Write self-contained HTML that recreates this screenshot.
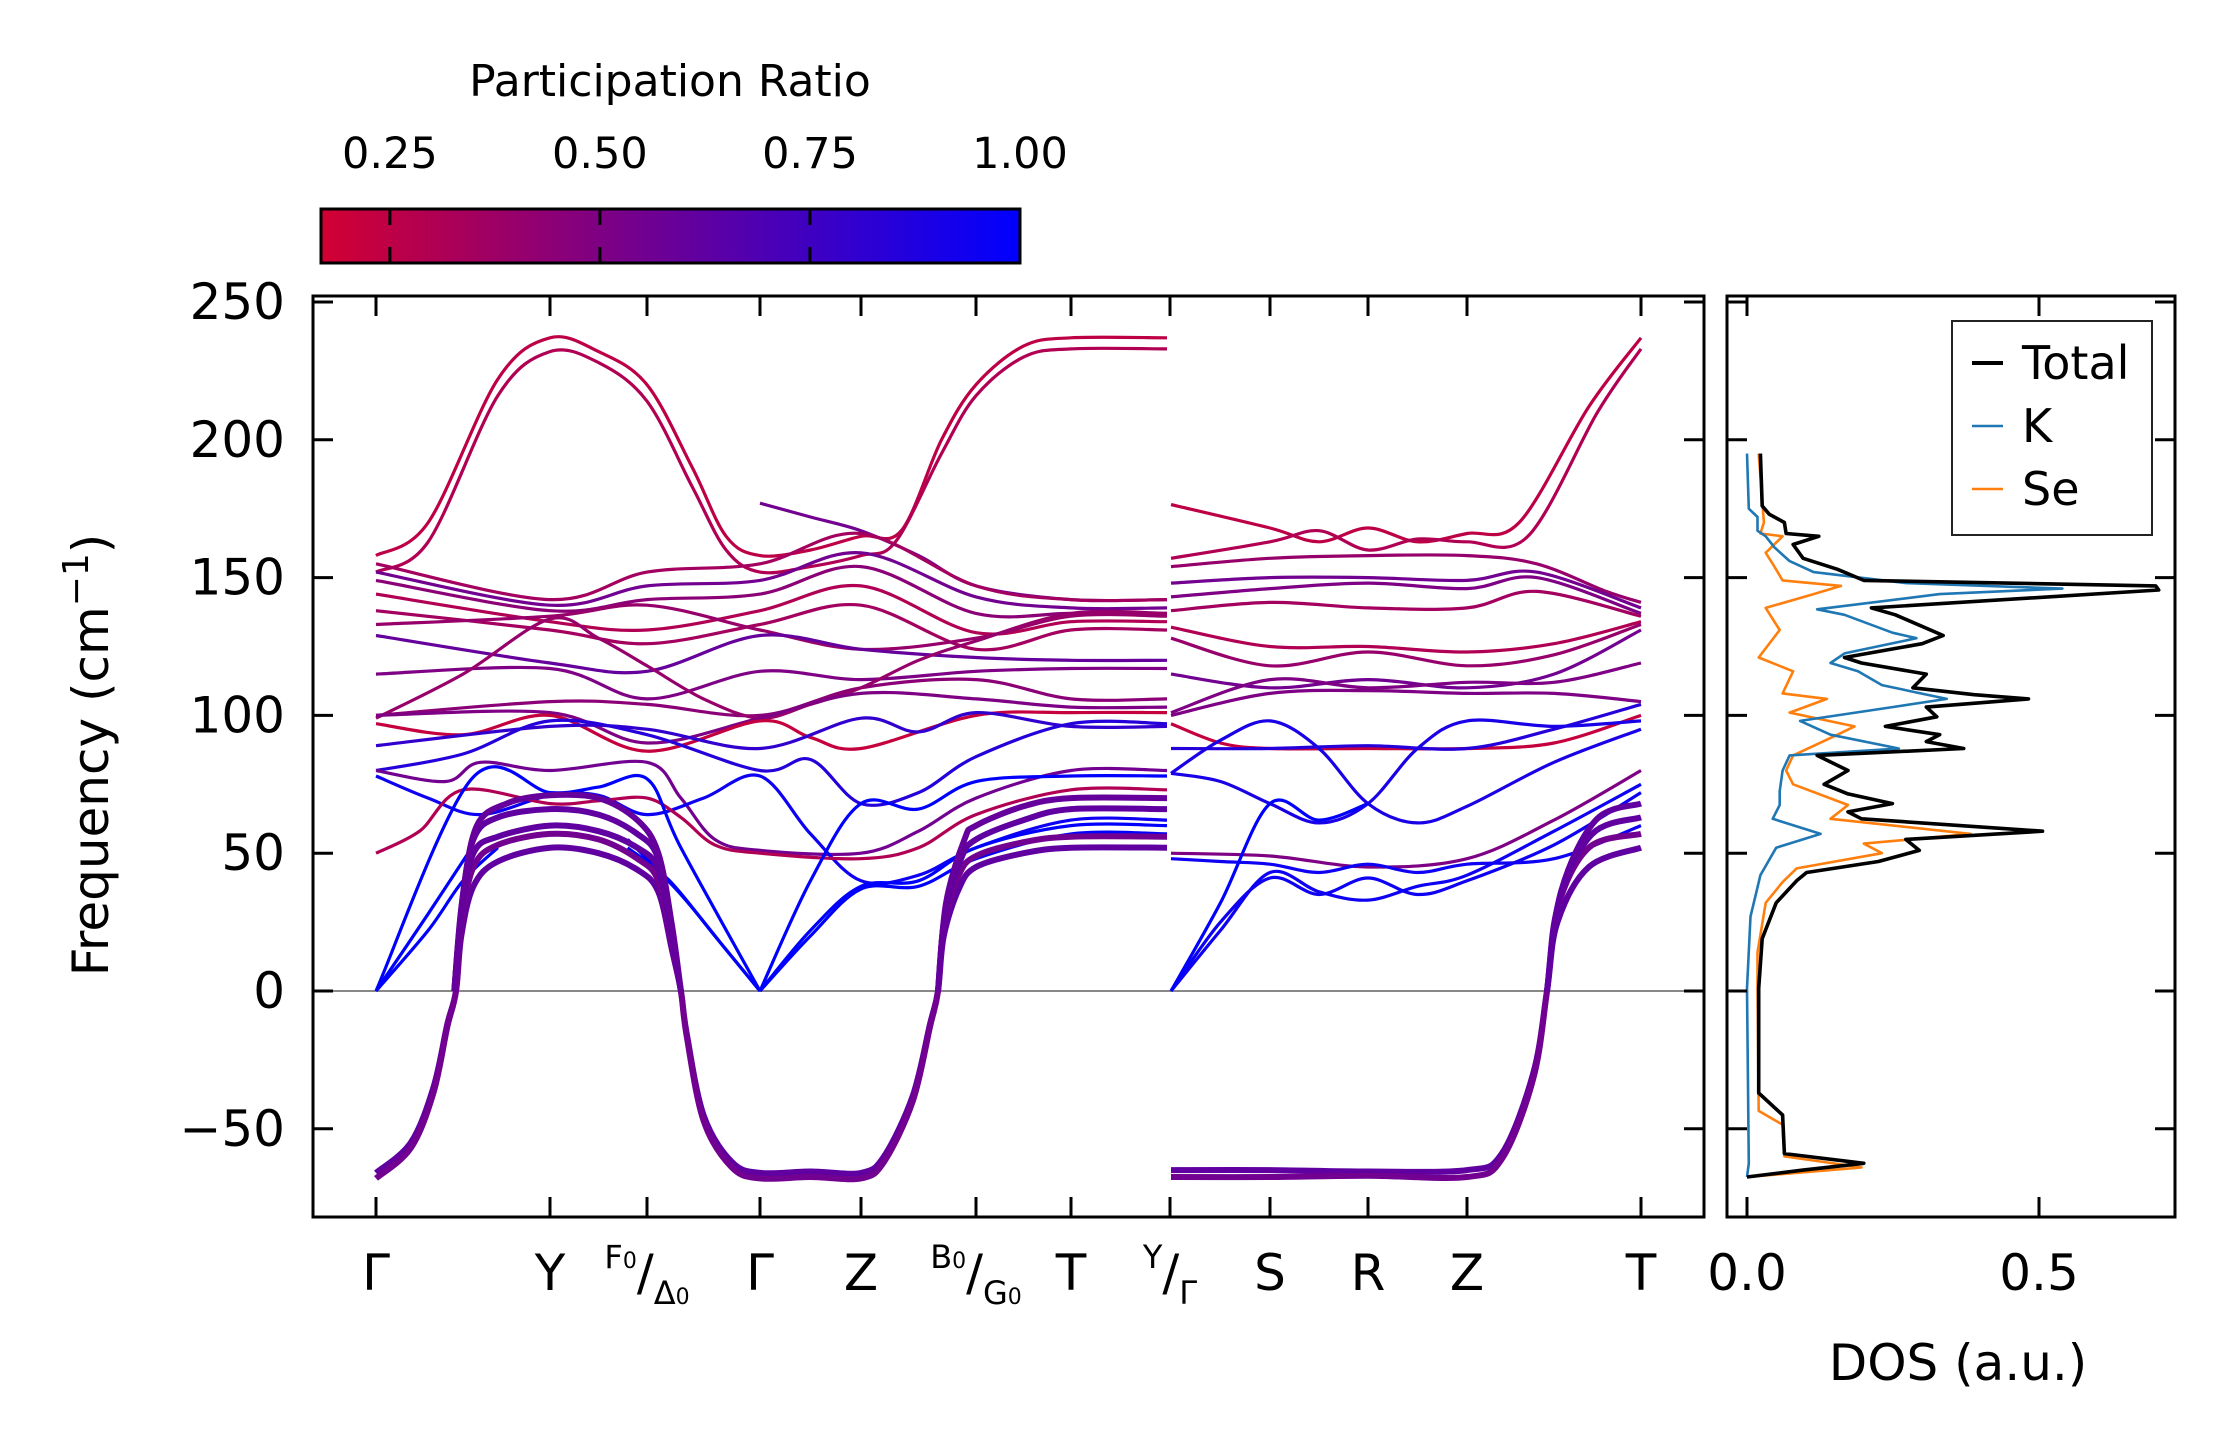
<!DOCTYPE html>
<html><head><meta charset="utf-8"><style>
html,body{margin:0;padding:0;background:#fff}
svg{display:block;font-family:"DejaVu Sans","Liberation Sans",sans-serif}
</style></head><body>
<svg id="fig" width="2234" height="1455" viewBox="0 0 2234 1455" xmlns="http://www.w3.org/2000/svg">
<defs>
<linearGradient id="cmap" x1="0" x2="1" y1="0" y2="0">
<stop offset="0" stop-color="rgb(210,0,50)"/><stop offset="1" stop-color="rgb(0,0,255)"/>
</linearGradient>
<clipPath id="clipMain"><rect x="313" y="296" width="1391" height="921"/></clipPath>
<clipPath id="clipDos"><rect x="1727" y="296" width="448" height="921"/></clipPath>
</defs>
<g id="colorbar">
<text x="670" y="96" font-size="44" text-anchor="middle">Participation Ratio</text>
<rect x="321" y="209" width="699" height="54" fill="url(#cmap)" stroke="#000" stroke-width="3"/>
</g>
<g id="bands" clip-path="url(#clipMain)"></g>
<g id="dos" clip-path="url(#clipDos)"></g>
<g id="axes"></g>
</svg>
<script>
// ---- data ----
const cbTicks=[0.25,0.5,0.75,1.0];
const cbTickLabels=['0.25','0.50','0.75','1.00'];
const yTicks=[250,200,150,100,50,0,-50];
const yTickLabels=['250','200','150','100','50','0','\u221250'];
const pathDistL=[0,1.74,2.71,3.84,4.85,6.00,6.95,7.93];
const pathDistR=[7.95,8.94,9.92,10.91,12.65];
const kLabels=[['Γ'],['Y'],['F','Δ'],['Γ'],['Z'],['B','G'],['T'],['Y','Γ'],['S'],['R'],['Z'],['T']];
const dosTicks=[0,0.5];
const dosTickLabels=['0.0','0.5'];
const leftBands=[
 {pr:0.25,pts:[[0,158],[0.3,170],[0.7,222],[1,237],[1.5,232],[2,220],[2.4,190],[2.7,165],[3,158],[3.5,160],[4,165],[4.35,167],[4.7,200],[5,220],[5.5,234],[6,237],[7,237]]},
 {pr:0.3,pts:[[0,152],[0.3,163],[0.7,216],[1,232],[1.5,228],[2,214],[2.4,183],[2.7,160],[3,152],[3.5,154],[4,158],[4.3,163],[4.7,195],[5,216],[5.5,230],[6,233],[7,233]]},
 {pr:0.55,pts:[[3,177],[3.5,172],[4,167],[4.5,158],[5,147],[6,142],[7,142]]},
 {pr:0.35,pts:[[0,155],[1,142],[2,152],[3,155],[4,166],[5,147],[6,142],[7,142]]},
 {pr:0.55,pts:[[0,152],[1,140],[2,147],[3,149],[4,159],[5,143],[6,139],[7,139]]},
 {pr:0.45,pts:[[0,149],[1,138],[2,142],[3,144],[4,154],[5,137],[6,137],[7,137]]},
 {pr:0.3,pts:[[0,144],[1,134],[2,131],[3,138],[4,147],[5,130],[6,134],[7,134]]},
 {pr:0.35,pts:[[0,138],[1,131],[2,126],[3,133],[4,140],[5,124],[6,131],[7,131]]},
 {pr:0.4,pts:[[0,133],[1,136],[2,140],[3,131],[4,124],[5,128],[6,136],[7,136]]},
 {pr:0.6,pts:[[0,129],[1,119],[2,116],[3,129],[4,124],[5,121],[6,120],[7,120]]},
 {pr:0.5,pts:[[0,115],[1,117],[2,106],[3,116],[4,113],[5,116],[6,117],[7,117]]},
 {pr:0.45,pts:[[0,100],[1,105],[2,104],[3,100],[4,110],[5,113],[6,106],[7,106]]},
 {pr:0.4,pts:[[0,99],[0.5,115],[1,135],[1.5,128],[2,118],[2.5,106],[3,99],[3.5,104],[4,110],[4.5,120],[5,127],[6,137],[7,137]]},
 {pr:0.5,pts:[[0,100],[1,101],[2,90],[3,99],[4,108],[5,106],[6,103],[7,103]]},
 {pr:0.22,pts:[[0,97],[0.5,93],[1,100],[2,87],[3,98],[3.5,92],[4,88],[5,100],[6,101],[7,101]]},
 {pr:0.8,pts:[[0,89],[1,96],[2,95],[3,88],[4,99],[4.5,94],[5,101],[6,96],[7,96]]},
 {pr:0.85,pts:[[0,80],[0.5,86],[1,98],[2,93],[3,80],[3.5,84],[4,68],[4.5,72],[5,85],[6,97],[7,97]]},
 {pr:0.55,pts:[[0,80],[0.4,76],[0.6,83],[1,80],[2,83],[2.3,70],[2.6,55],[3,51],[4,50],[4.5,58],[5,70],[6,80],[7,80]]},
 {pr:0.95,pts:[[0,78],[0.3,70],[0.6,64],[1,71],[1.5,71],[2,64],[2.5,70],[3,78],[3.5,57],[4,40],[4.5,42],[5,52],[6,62],[7,62]]},
 {pr:0.3,pts:[[0,50],[0.25,58],[0.5,73],[1,68],[1.5,69],[2,70],[2.3,63],[2.6,53],[3,50],[4,48],[4.5,52],[5,64],[6,73],[7,73]]},
 {pr:1.0,pts:[[0,0],[0.55,77],[1,72],[1.5,74],[2,77],[2.3,52],[3,0]]},
 {pr:1.0,pts:[[0,0],[0.3,22],[0.5,40],[0.7,52]]},
 {pr:1.0,pts:[[0,0],[0.3,28],[0.55,52]]},
 {pr:1.0,pts:[[1.8,52],[2.2,40],[2.6,20],[3,0]]},
 {pr:1.0,pts:[[1.8,55],[2.3,35],[2.7,15],[3,0]]},
 {pr:1.0,pts:[[3,0],[3.5,22],[4,38],[4.5,40],[5,52],[6,60],[7,60]]},
 {pr:1.0,pts:[[3,0],[3.5,20],[4,37],[4.5,38],[5,48],[6,57],[7,57]]},
 {pr:1.0,pts:[[3,0],[3.5,40],[4,68],[4.5,66],[5,76],[6,78],[7,78]]},
 {pr:0.62,soft:1,pts:[[0,-66],[0.2,-55],[0.33,-35],[0.41,-12],[0.46,0],[0.49,20],[0.56,38],[0.7,47],[1,52],[1.5,50],[1.9,44],[2.1,36],[2.22,15],[2.3,0],[2.35,-15],[2.5,-45],[2.75,-62],[3,-66],[3.5,-65.5],[4,-66],[4.2,-60],[4.45,-38],[4.6,-12],[4.67,0],[4.72,20],[4.85,37],[5,45],[5.5,50],[6,52],[7,52]]},
 {pr:0.55,soft:1,pts:[[0,-68],[0.2,-57],[0.33,-37],[0.41,-13],[0.46,0],[0.49,24],[0.56,45],[0.7,53],[1,57],[1.5,55],[1.9,48],[2.1,40],[2.22,17],[2.3,0],[2.35,-16],[2.5,-47],[2.75,-64],[3,-68],[3.5,-67.5],[4,-68],[4.2,-62],[4.45,-40],[4.6,-13],[4.67,0],[4.72,24],[4.85,42],[5,49],[5.5,54],[6,56],[7,56]]},
 {pr:0.62,soft:1,pts:[[0.45,0],[0.49,28],[0.56,50],[0.7,56],[1,60],[1.5,58],[1.9,52],[2.1,44],[2.22,20],[2.3,0]]},
 {pr:0.62,soft:1,pts:[[0.45,0],[0.49,30],[0.56,55],[0.7,63],[1,66],[1.5,64],[1.9,57],[2.1,48],[2.22,22],[2.3,0]]},
 {pr:0.6,soft:1,pts:[[0.45,0],[0.5,35],[0.58,60],[0.75,68],[1,71],[1.5,70],[1.9,62],[2.1,50],[2.22,24],[2.3,0]]},
 {pr:0.62,soft:1,pts:[[4.67,0],[4.73,28],[4.87,48],[5,55],[5.5,62],[6,66],[7,66]]},
 {pr:0.6,soft:1,pts:[[4.67,0],[4.74,32],[4.9,55],[5,60],[5.5,67],[6,70],[7,70]]}
];
const rightBands=[
 {pr:0.25,pts:[[7,176.5],[8,168],[8.5,163],[9,168],[9.5,163],[10,166],[10.3,170],[10.7,212],[11,237]]},
 {pr:0.3,pts:[[7,157],[8,163],[8.5,167],[9,160],[9.5,164],[10,163],[10.35,165],[10.75,210],[11,233]]},
 {pr:0.4,pts:[[7,154],[8,157],[9,158],[10,158],[10.4,155],[10.8,145],[11,141]]},
 {pr:0.55,pts:[[7,148],[8,150],[9,150],[10,149],[10.4,152],[11,139]]},
 {pr:0.5,pts:[[7,143],[8,146],[9,148],[10,146],[10.4,150],[11,137]]},
 {pr:0.35,pts:[[7,138],[8,141],[9,139],[10,139],[10.4,145],[11,136]]},
 {pr:0.3,pts:[[7,132],[8,125],[9,125],[10,123],[10.5,126],[11,134]]},
 {pr:0.4,pts:[[7,128],[8,118],[9,123],[10,118],[10.5,122],[11,133]]},
 {pr:0.55,pts:[[7,115],[8,110],[9,113],[10,110],[10.5,115],[11,131]]},
 {pr:0.5,pts:[[7,101],[8,113],[9,110],[10,112],[10.5,112],[11,119]]},
 {pr:0.5,pts:[[7,100],[8,108],[9,109],[10,108],[10.5,108],[11,105]]},
 {pr:0.22,pts:[[7,97],[7.5,90],[8,88],[9,88],[10,88],[10.5,90],[11,100]]},
 {pr:0.85,pts:[[7,88],[8,88],[9,89],[10,88],[10.5,95],[11,104]]},
 {pr:0.9,pts:[[7,79],[7.5,91],[8,98],[8.5,88],[9,68],[9.5,61],[10,67],[10.5,83],[11,95]]},
 {pr:0.9,pts:[[7,79],[7.5,76],[8,68],[8.5,61],[9,68],[9.5,88],[10,98],[10.5,96],[11,98]]},
 {pr:0.5,pts:[[7,50],[8,49],[9,45],[10,48],[10.5,62],[11,80]]},
 {pr:0.95,pts:[[7,48],[7.5,47],[8,46],[8.5,43],[9,46],[9.5,43],[10,46],[10.5,48],[11,60]]},
 {pr:0.95,pts:[[7,0],[7.5,25],[8,41],[8.5,35],[9,41],[9.5,35],[10,40],[10.5,53],[11,72]]},
 {pr:0.95,pts:[[7,0],[7.5,22],[8,43],[8.5,36],[9,33],[9.5,38],[10,42],[10.5,58],[11,75]]},
 {pr:1.0,pts:[[7,0],[7.5,32],[8,68],[8.5,62],[9,68]]},
 {pr:0.62,soft:1,pts:[[7,-65],[8,-65],[9,-65.5],[10,-65],[10.2,-59],[10.38,-30],[10.46,0],[10.52,25],[10.7,45],[11,52]]},
 {pr:0.55,soft:1,pts:[[7,-67.5],[8,-67.5],[9,-67],[10,-67.5],[10.2,-61],[10.38,-32],[10.46,0],[10.52,30],[10.7,52],[11,57]]},
 {pr:0.62,soft:1,pts:[[10.46,0],[10.53,33],[10.72,57],[11,63]]},
 {pr:0.62,soft:1,pts:[[10.46,0],[10.54,36],[10.74,62],[11,68]]}
];
const dosTotalF=[195,176,173,170,166,165,162,157,153,149,147,145.5,139,136.5,129,126,121,119,115,110,107.5,106,103,99.5,96,93,90.5,88,85.5,80,75,71.5,68,65,62.5,58,55,51,47,43,40,32,19,1,-37,-45,-59,-62.5,-65,-67.5];
const dosTotalV=[.023,.026,.038,.064,.067,.123,.079,.096,.155,.2,.70,.705,.213,.254,.336,.30,.167,.196,.307,.284,.389,.482,.307,.325,.237,.33,.307,.371,.12,.173,.132,.173,.249,.173,.196,.506,.272,.295,.225,.102,.085,.05,.026,.02,.02,.061,.064,.2,.096,0];
const dosKF=[195,175,172,167,165,161,156,152,148,146,144,138.5,136.5,130,128,122.5,119,116,111,106,103,98,93,88,85.5,80,72.5,67.5,62.5,57,52,42,27,1,-62.5,-67.5];
const dosKV=[0,.003,.018,.018,.032,.047,.073,.114,.272,.54,.33,.12,.167,.249,.29,.167,.143,.19,.231,.342,.249,.091,.143,.26,.073,.061,.056,.056,.044,.126,.05,.023,.006,0,.003,0];
const dosSeF=[195,170,166,165,159,154,149,147,144,139,131,121,116,108,106,101,96,93,85.5,80,75,67.5,62.5,57,53.5,50,44.5,39.5,32,14,1,-43.5,-48.5,-60,-64,-67.5];
const dosSeV=[.02,.029,.023,.061,.032,.047,.061,.161,.114,.032,.056,.02,.079,.061,.137,.073,.184,.155,.079,.067,.079,.173,.143,.383,.2,.231,.085,.061,.032,.018,.018,.02,.061,.064,.196,0];
const legendNames=['Total','K','Se'];

// ---- scales ----
const NS='http://www.w3.org/2000/svg';
const Y0=991, PXU=2.756;
function yScale(f){return Y0-PXU*f;}
function xDist(d){return 376+100*d;}
function kToX(k,right){
  const arr=right?pathDistR:pathDistL; let kk=right?k-7:k;
  let i=Math.min(Math.floor(kk),arr.length-2); if(i<0)i=0;
  const d=arr[i]+(arr[i+1]-arr[i])*(kk-i);
  let x=xDist(d); if(!right&&k>=7)x-=2; return x;
}
function dosX(v){return 1747+584*v;}
function prColor(p){const t=Math.max(0,Math.min(1,(p-0.168)/(1-0.168)));
  return 'rgb('+Math.round(210*(1-t))+',0,'+Math.round(50+205*t)+')';}
function crPath(P){
  let s='M'+P[0][0].toFixed(1)+','+P[0][1].toFixed(1);
  for(let i=0;i<P.length-1;i++){
    const p0=P[i-1]||P[i],p1=P[i],p2=P[i+1],p3=P[i+2]||P[i+1];
    const c1=[p1[0]+(p2[0]-p0[0])/6,p1[1]+(p2[1]-p0[1])/6];
    const c2=[p2[0]-(p3[0]-p1[0])/6,p2[1]-(p3[1]-p1[1])/6];
    s+='C'+c1[0].toFixed(1)+','+c1[1].toFixed(1)+' '+c2[0].toFixed(1)+','+c2[1].toFixed(1)+' '+p2[0].toFixed(1)+','+p2[1].toFixed(1);
  }
  return s;
}
function mk(tag,attrs,parent){const e=document.createElementNS(NS,tag);for(const a in attrs)e.setAttribute(a,attrs[a]);parent.appendChild(e);return e;}

const gB=document.getElementById('bands');
const zl=mk('line',{x1:313,x2:1704,y1:yScale(0),y2:yScale(0),stroke:'#888','stroke-width':2},gB);


function drawBands(list,right,name){
  list.forEach((b,i)=>{
    const P=b.pts.map(p=>[kToX(p[0],right),yScale(p[1])]);
    const e=mk('path',{d:crPath(P),fill:'none',stroke:prColor(b.pr),'stroke-width':b.soft?6:3.2,'stroke-linecap':'butt'},gB);
    
    
  });
}
drawBands(leftBands,false,'left');
drawBands(rightBands,true,'right');

const gD=document.getElementById('dos');
function drawDos(F,V,color,w,name){
  const d=F.map((f,i)=>(i?'L':'M')+dosX(V[i]).toFixed(1)+','+yScale(f).toFixed(1)).join('');
  const e=mk('path',{d:d,fill:'none',stroke:color,'stroke-width':w,'stroke-linejoin':'round'},gD);
  
  
}
drawDos(dosSeF,dosSeV,'#ff7f0e',2.6,'dos-se');
drawDos(dosKF,dosKV,'#1f77b4',2.6,'dos-k');
drawDos(dosTotalF,dosTotalV,'#000',3.6,'dos-total');

const gA=document.getElementById('axes');
const fr=mk('rect',{x:313,y:296,width:1391,height:921,fill:'none',stroke:'#000','stroke-width':3},gA);


const fr2=mk('rect',{x:1727,y:296,width:448,height:921,fill:'none',stroke:'#000','stroke-width':3},gA);


yTicks.forEach((v,i)=>{
  const y=yScale(v);
  [[313,333],[1684,1704],[1727,1747],[2155,2175]].forEach(s=>{
    const t=mk('line',{x1:s[0],x2:s[1],y1:y,y2:y,stroke:'#000','stroke-width':3},gA);
    
    
  });
  const tl=mk('text',{x:285,y:y+17,'font-size':50,'text-anchor':'end'},gA);
  tl.textContent=yTickLabels[i];
  
  
});
const yl=mk('text',{x:0,y:0,'font-size':50,'text-anchor':'middle',transform:'translate(108,755) rotate(-90)'},gA);
yl.innerHTML='Frequency (cm<tspan dy="-20" font-size="36">\u22121</tspan><tspan dy="20">)</tspan>';


const allKX=[];
for(let k=0;k<7;k++)allKX.push(kToX(k,false));
allKX.push(xDist(pathDistL[7]+0.01));
for(let k=8;k<=11;k++)allKX.push(kToX(k,true));
allKX.forEach((x,i)=>{
  [[296,316],[1197,1217]].forEach(s=>{
    const t=mk('line',{x1:x,x2:x,y1:s[0],y2:s[1],stroke:'#000','stroke-width':3},gA);
    
    
  });
  const L=kLabels[i]; const t=mk('text',{x:x,y:1290,'font-size':50,'text-anchor':'middle'},gA);
  if(L.length===1)t.textContent=L[0];
  else t.innerHTML='<tspan font-size="32" dy="-22">'+L[0]+(L[0]==='Y'?'':'<tspan font-size="22">0</tspan>')+'</tspan><tspan dy="22">/</tspan><tspan font-size="32" dy="14">'+L[1]+(L[1]==='Γ'?'':'<tspan font-size="22">0</tspan>')+'</tspan>';
  
  
});
dosTicks.forEach((v,i)=>{
  const x=dosX(v);
  [[296,316],[1197,1217]].forEach(s=>{
    const t=mk('line',{x1:x,x2:x,y1:s[0],y2:s[1],stroke:'#000','stroke-width':3},gA);
    
    
  });
  const tl=mk('text',{x:x,y:1290,'font-size':50,'text-anchor':'middle'},gA);
  tl.textContent=dosTickLabels[i];
  
  
});
const dl=mk('text',{x:1958,y:1380,'font-size':50,'text-anchor':'middle'},gA);
dl.textContent='DOS (a.u.)';


const lg=mk('g',{},gA);


mk('rect',{x:1952,y:321,width:200,height:214,fill:'#fff',stroke:'#222','stroke-width':2},lg);
const lc=['#000','#1f77b4','#ff7f0e'];
legendNames.forEach((n,i)=>{
  const y=363+i*63;
  const ln=mk('line',{x1:1972,x2:2003,y1:y,y2:y,stroke:lc[i],'stroke-width':i?2.6:4},lg);
  
  
  const t=mk('text',{x:2022,y:y+16,'font-size':46},lg);
  t.textContent=n;
  
  
});
const gC=document.getElementById('colorbar');
function cbX(v){return 321+(v-0.168)/(1-0.168)*699;}
cbTicks.forEach((v,i)=>{
  const x=cbX(v);
  if(v<1){
    [[209,225],[247,263]].forEach(s=>{
      const t=mk('line',{x1:x,x2:x,y1:s[0],y2:s[1],stroke:'#000','stroke-width':3},gC);
      
      
    });
  }
  const tl=mk('text',{x:x,y:168,'font-size':43,'text-anchor':'middle'},gC);
  tl.textContent=cbTickLabels[i];
  
  
});
</script>
</body></html>
